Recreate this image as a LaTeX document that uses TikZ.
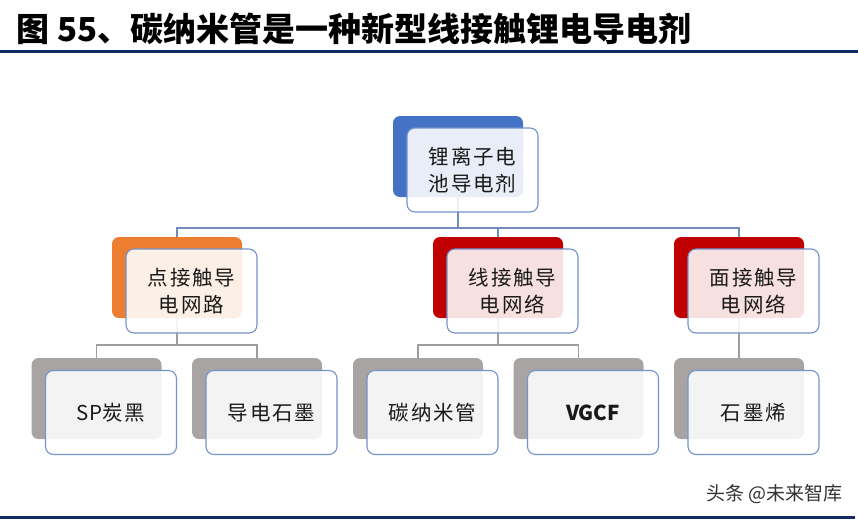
\documentclass[tikz,border=0pt]{standalone}
\usepackage{fontspec}
\setmainfont{Noto Sans CJK SC}
\newfontfamily\cardfont[LetterSpace=9]{Noto Sans CJK SC}
\usetikzlibrary{positioning,backgrounds}
\definecolor{colblue}{RGB}{68,114,196}
\definecolor{colorange}{RGB}{237,125,49}
\definecolor{colred}{RGB}{192,0,0}
\definecolor{colgrey}{RGB}{168,164,164}
\definecolor{colframe}{RGB}{114,147,203}
\definecolor{collink}{RGB}{112,140,190}
\definecolor{collinkg}{RGB}{158,158,158}
\definecolor{colnavy}{RGB}{20,42,100}
\definecolor{colmark}{RGB}{50,50,50}

\begin{document}
\begin{tikzpicture}[x=1pt,y=-1pt,
    back/.style={rounded corners=7pt,minimum width=130pt,minimum height=81pt,inner sep=0pt},
    front/.style={draw=colframe,line width=1.1pt,rounded corners=8pt,fill=white,fill opacity=0.88,
      text opacity=1,text=black!90,minimum width=131pt,minimum height=84pt,inner sep=0pt,
      align=center,font=\cardfont\fontsize{20.5}{27}\selectfont},
    link/.style={line width=1.3pt}]
    \useasboundingbox (0,0) rectangle (858,520);
    \node[anchor=west,font=\fontsize{33}{33}\selectfont\bfseries] (title) at (13,29) {图 55、碳纳米管是一种新型线接触锂电导电剂};
    \draw[colnavy,line width=3pt] (0,51) -- (858,51);
    \coordinate (rail1) at (0,228);
    \coordinate (rail2) at (0,345);
    % back plates
    \node[back,fill=colblue]   (root-b) at (458,156.5) {};
    \node[back,fill=colorange] (pt-b)   at (177,277.5) {};
    \node[back,fill=colred]    (xian-b) at (498,277.5) {};
    \node[back,fill=colred]    (mian-b) at (739,277.5) {};
    \node[back,fill=colgrey]   (sp-b)   at (96.5,398.5) {};
    \node[back,fill=colgrey]   (dd-b)   at (257,398.5) {};
    \node[back,fill=colgrey]   (cnt-b)  at (418,398.5) {};
    \node[back,fill=colgrey]   (vgcf-b) at (578.5,398.5) {};
    \node[back,fill=colgrey]   (sm-b)   at (739,398.5) {};
    % connectors
    \begin{scope}[on background layer]
      \foreach \c in {pt-b,xian-b,mian-b}
        \draw[link,collink] (root-b.center) -- (root-b.center |- rail1) -| (\c.center);
      \foreach \p/\c in {pt-b/sp-b,pt-b/dd-b,xian-b/cnt-b,xian-b/vgcf-b,mian-b/sm-b}
        \draw[link,collinkg] (\p.center) -- (\p.center |- rail2) -| (\c.center);
    \end{scope}
    % front cards
    \node[front] (root) at (472.5,170) {锂离子电\\池导电剂};
    \node[front] (pt)   at (191.5,291) {点接触导\\电网路};
    \node[front] (xian) at (512.5,291) {线接触导\\电网络};
    \node[front] (mian) at (753.5,291) {面接触导\\电网络};
    \node[front] (sp)   at (111,412.5) {{\addfontfeature{LetterSpace=0}SP}炭黑};
    \node[front] (dd)   at (271.5,412.5) {导电石墨};
    \node[front] (cnt)  at (432.5,412.5) {碳纳米管};
    \node[front] (vgcf) at (593,412.5) {\addfontfeature{LetterSpace=0}\bfseries VGCF};
    \node[front] (sm)   at (753.5,412.5) {石墨烯};
    \node[anchor=east,font=\fontsize{19}{19}\selectfont,text=colmark] (mark) at (846,494) {头条 @未来智库};
    \draw[colnavy,line width=2.5pt] (0,517.5) -- (855,517.5);
\end{tikzpicture}
\end{document}
